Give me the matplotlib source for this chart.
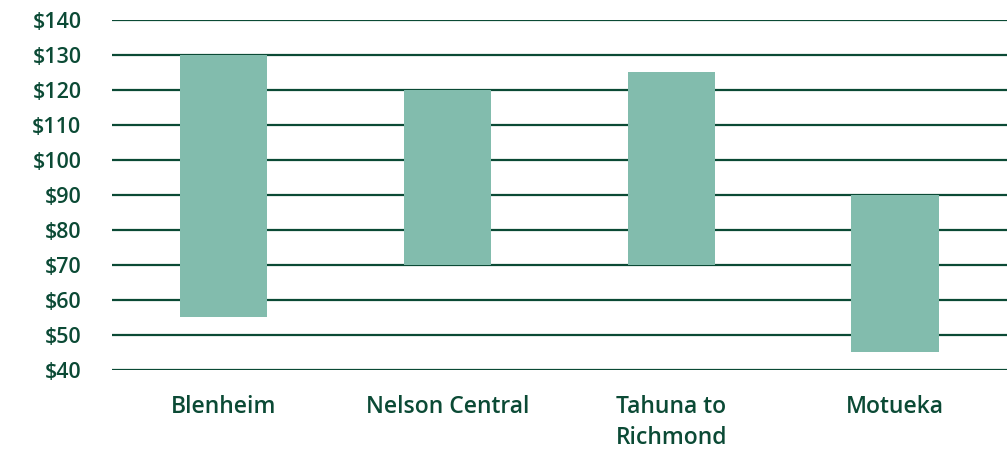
import matplotlib
matplotlib.use('Agg')
import matplotlib.pyplot as plt
import numpy as np

# data
areas = ['Blenheim', 'Nelson Central', 'Tahuna to\nRichmond', 'Motueka']
low = [55, 70, 70, 45]
high = [130, 120, 125, 90]
yticks = [40, 50, 60, 70, 80, 90, 100, 110, 120, 130, 140]

dark = '#0b4a35'
bar_col = '#82bcad'

plt.rcParams['font.family'] = ['Open Sans', 'DejaVu Sans']

fig = plt.figure(figsize=(10.07, 4.51), dpi=100)
ax = fig.add_axes([0.1112, 0.1796, 0.8888, 0.7761])

x = np.arange(len(areas))
heights = [h - l for h, l in zip(high, low)]
ax.bar(x, heights, bottom=low, width=0.39, color=bar_col, zorder=3)

for t in yticks:
    ax.axhline(t, color=dark, lw=1.6, zorder=1)

ax.set_xlim(-0.5, 3.5)
ax.set_ylim(40, 140)
ax.set_yticks(yticks)
ax.set_yticklabels(['$%d' % t for t in yticks])
ax.set_xticks(x)
ax.set_xticklabels(areas, linespacing=1.38)

for s in ax.spines.values():
    s.set_visible(False)
ax.tick_params(length=0, labelcolor=dark)
ax.tick_params(axis='y', pad=22, labelsize=15.5)
ax.tick_params(axis='x', pad=18, labelsize=16.5)
for lab in ax.get_xticklabels() + ax.get_yticklabels():
    lab.set_fontweight('semibold')

fig.savefig('out.png', dpi=100)
